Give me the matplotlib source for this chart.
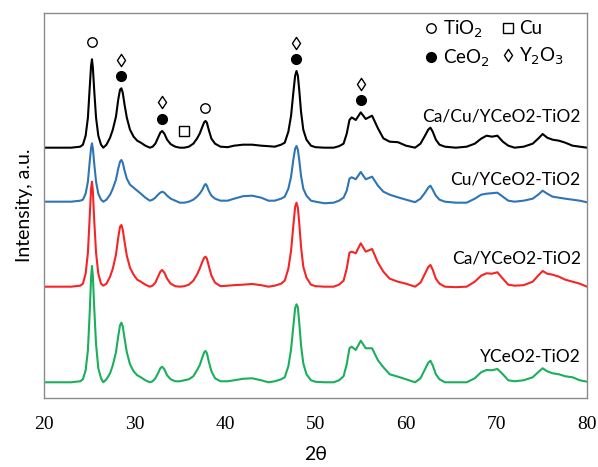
import numpy as np
import matplotlib
matplotlib.use("Agg")
import matplotlib.pyplot as plt
from matplotlib.lines import Line2D
from matplotlib.path import Path

# 2theta grid shared by all four patterns (one line per region)
two_theta = [20, 23, 24.0, 24.3, 24.6, 24.85, 25.05, 25.2, 25.3, 25.4, 25.55, 25.75, 26.0, 26.3, 26.55,
             26.9, 27.3, 27.6, 27.95, 28.2, 28.4, 28.55, 28.7, 28.9, 29.15, 29.5, 29.9, 30.3, 30.7, 31.2, 31.7,
             32.0, 32.3, 32.6, 32.85, 33.05, 33.3, 33.6, 34.0, 34.5, 35.0, 35.5, 36.0, 36.5, 36.9, 37.2, 37.5,
             37.7, 37.85, 38.0, 38.2, 38.5, 38.9, 39.5,
             40.3, 41.0, 42.0, 43.0, 44.0, 44.8, 45.5, 46.2, 46.6, 47.0, 47.3, 47.55, 47.75, 47.9, 48.05, 48.2,
             48.4, 48.65, 49.0, 49.5, 50.0,
             51.0, 52.0, 52.6, 53.1, 53.45, 53.75, 54.0, 54.45, 55.0, 55.55, 56.25, 56.9, 57.5, 58.2, 59.1, 60.0,
             61.0, 61.6, 62.1, 62.45, 62.7, 62.95, 63.3, 63.7, 64.3, 65.5,
             66.7, 67.6, 68.3, 68.9, 69.5, 70.1, 70.7, 71.3, 72.0, 73.0, 74.0, 74.6, 75.1, 75.6, 76.2, 76.9,
             77.6, 78.4, 79.2, 80.0]

# intensities (a.u.) above each pattern's own baseline
ca_cu = [0, 0, 1, 3, 12, 30, 60, 82, 88.4, 80, 57, 30, 12, 3, 0,
         3, 10, 18, 31, 48, 58, 59.4, 55, 43, 30, 18, 11, 7, 5, 2, 0,
         1, 4, 10, 15, 16.7, 14, 8, 3.5, 1, 0, 0, 1, 4, 9, 14, 21,
         25.5, 26.7, 25, 18, 9, 4, 1,
         0.5, 2, 3, 3, 2, 1.5, 1, 3, 5, 16, 32, 55, 72, 76.7, 72, 58,
         36, 18, 8, 2, 0.5,
         0, 0, 1.5, 4, 14, 27.7, 30.3, 27.7, 35.3, 28.7, 32, 19.3, 9.3, 6, 5.5, 2,
         0, 4, 12, 18, 20, 16, 8, 3, 1, 0,
         1, 4, 9, 12, 11, 12, 6, 2, 0, 1, 4, 9, 13.7, 10, 8, 7,
         5, 2, 1, 0]
cu = [0, 0, 1, 2, 8, 20, 40, 54, 58.4, 53, 38, 20, 8, 2, 0,
      2, 7, 13, 22, 33, 40, 41.7, 39, 31, 23, 17, 14, 11, 8, 4, 1,
      2, 4, 7, 9, 10, 9, 6, 3, 1, -1, -1, 0, 2, 5, 8, 12,
      16, 17.7, 16, 11, 6, 3, 1,
      1, 3, 5.5, 6, 4, 1, 1, 3, 5, 13, 25, 42, 53, 55.7, 52, 42,
      26, 13, 6, 1, 0,
      -1.6, -1, 1, 4, 11, 23, 24.4, 22.4, 29.7, 22.4, 25, 16, 10, 7, 4.4, 2,
      -0.5, 3, 9, 14, 16, 12, 6, 2, 0, -1,
      -1, 3, 7, 8, 8.5, 9, 5, 1, 0, 1, 3, 7, 11, 8, 5, 4,
      3, 2, 1, -0.6]
ca = [0, 0, 1, 3, 13, 34, 70, 98, 105, 95, 66, 34, 13, 3, 1,
      3, 10, 18, 32, 49, 60, 61.7, 57, 45, 31, 19, 12, 7, 5, 2, 0,
      1, 4, 10, 15, 16.7, 14, 8, 3, 0.5, 0, 0.5, 2, 6, 12, 18, 25,
      29, 30, 28, 21, 11, 4, 0.5,
      1, 1.5, 2, 2.7, 1.5, 0, 1, 3, 6, 18, 36, 61, 80, 84, 79, 64,
      40, 20, 9, 2, 0.5,
      0, 0, 2, 6, 18, 34, 35, 33.4, 43.4, 35, 37.7, 24, 15, 8, 5, 3,
      0, 4, 13, 19.5, 21.7, 17, 8, 3, 0, -0.5,
      0, 5, 11, 13.4, 13, 14.4, 8, 2, 1, 1.5, 5, 11, 15.7, 13, 12, 10,
      7, 5, 3, 0]
base = [0, 0, 1, 3, 12, 32, 70, 104, 116.3, 106, 74, 38, 14, 4, 0,
        3, 9, 17, 30, 46, 57, 59.6, 56, 44, 30, 18, 11, 7, 5, 2, 0,
        1, 4, 9, 14, 15.6, 13, 7, 3, 1, 1, 2, 3, 6, 12, 17, 25,
        30, 31.3, 29, 21, 11, 4, 1,
        1, 2, 3.5, 4, 2, 0, 1, 3, 5, 16, 33, 56, 74, 78, 75, 60,
        37, 19, 8, 2, 0.5,
        0, 0, 2, 6, 18, 34, 35.6, 32.3, 41.6, 34, 34, 22, 15, 8, 5.6, 3,
        0, 4, 13, 19.5, 21.6, 17, 8, 3, 0, 0,
        0, 4, 10, 12.3, 12, 13.3, 8, 2, 1, 2, 5, 10, 14, 11, 9, 8,
        6, 5, 2, 0.6]

names = ["Ca/Cu/YCeO2-TiO2", "Cu/YCeO2-TiO2", "Ca/YCeO2-TiO2", "YCeO2-TiO2"]
patterns = [ca_cu, cu, ca, base]
colors = ["#000000", "#2E75B6", "#F52525", "#1BAF5C"]
offsets = [250.3, 196.3, 111.3, 15.7]
label_y = [281, 218, 139.7, 41.3]

# phase markers: (2theta, height)
tio2_pos = [(25.34, 355.7), (37.79, 289.7)]
ceo2_pos = [(28.54, 321.7), (33.04, 279.3), (47.8, 338.7), (54.99, 298)]
y2o3_pos = [(28.54, 338), (33.04, 295.7), (47.8, 354.7), (54.99, 314)]
cu_pos = [(35.5, 267.3)]

sans = ["Lato", "DejaVu Sans"]

# narrow open diamond like the original Y2O3 symbol
diamond = Path([(0, 0.5), (0.33, 0), (0, -0.5), (-0.33, 0), (0, 0.5)],
               [Path.MOVETO, Path.LINETO, Path.LINETO, Path.LINETO, Path.CLOSEPOLY])

fig = plt.figure(figsize=(5.98, 4.67), dpi=100)
ax = fig.add_axes([0.0736, 0.1478, 0.908, 0.8244])

x = np.array(two_theta)
for pat, col, off in zip(patterns, colors, offsets):
    ax.plot(x, np.array(pat) + off, color=col, lw=1.5, solid_joinstyle="round")

for nm, ly in zip(names, label_y):
    ax.text(79.3, ly, nm, ha="right", va="center", fontsize=12.5, family=sans)

mk_open_circle = dict(marker="o", ms=6.8, mfc="white", mec="black", mew=1.0, ls="none")
mk_filled = dict(marker="o", ms=7.0, mfc="black", mec="black", ls="none")
mk_diamond = dict(marker=diamond, ms=8.8, mfc="white", mec="black", mew=1.0, ls="none")
mk_square = dict(marker="s", ms=6.5, mfc="white", mec="black", mew=1.0, ls="none")

ax.plot(*zip(*tio2_pos), **mk_open_circle)
ax.plot(*zip(*ceo2_pos), **mk_filled)
ax.plot(*zip(*y2o3_pos), **mk_diamond)
ax.plot(*zip(*cu_pos), **mk_square)

handles = [Line2D([], [], **mk_open_circle), Line2D([], [], **mk_filled),
           Line2D([], [], **mk_square), Line2D([], [], **mk_diamond)]
labels = ["TiO$_2$", "CeO$_2$", "Cu", "Y$_2$O$_3$"]
ax.legend(handles, labels, ncol=2, loc="upper right", bbox_to_anchor=(0.99, 1.03),
          frameon=False, handlelength=0.6, handletextpad=0.3, columnspacing=0.7,
          labelspacing=0.45, prop={"family": sans, "size": 13.5})

ax.set_xlim(20, 80)
ax.set_ylim(0, 385)
ax.set_yticks([])
ax.set_xticks(range(20, 81, 10))
ax.tick_params(axis="x", length=0, pad=13, labelsize=14)
for lab in ax.get_xticklabels():
    lab.set_family("Liberation Serif")
for sp in ax.spines.values():
    sp.set_color("#8C8C8C")
    sp.set_linewidth(1.0)

ax.set_xlabel("2θ", fontsize=14, family=sans, labelpad=9)
ax.set_ylabel("Intensity, a.u.", fontsize=14, family=sans, labelpad=8)

fig.savefig("out.png", dpi=100)
